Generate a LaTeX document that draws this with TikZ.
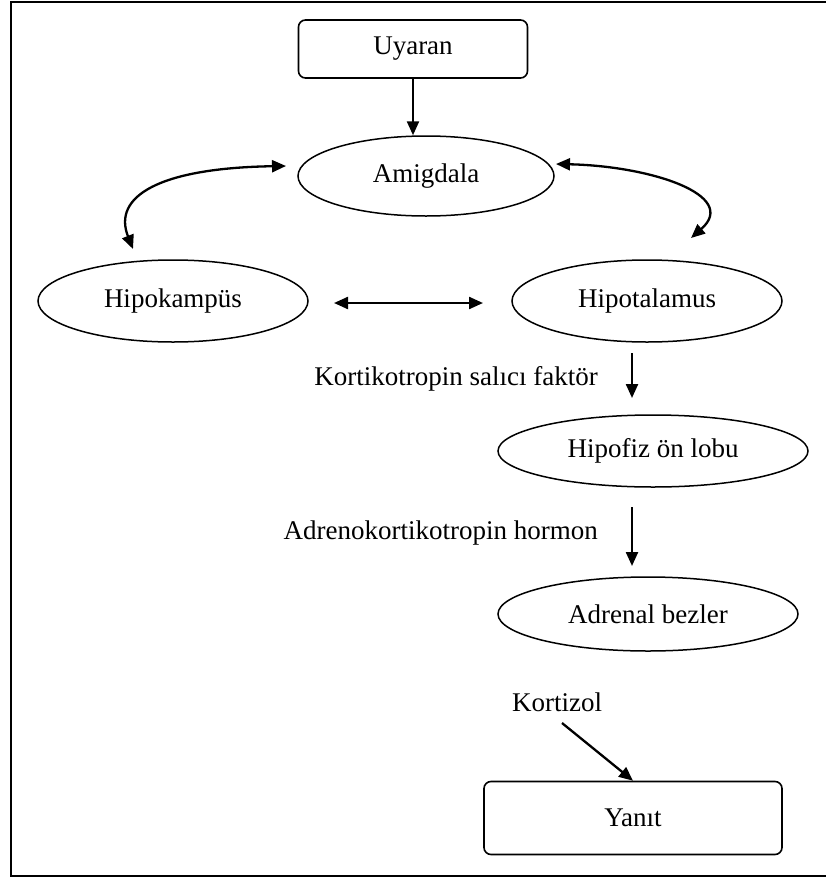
\documentclass[tikz,border=0pt]{standalone}
\usepackage{fontspec}
\setmainfont{Liberation Serif}
\usetikzlibrary{shapes.geometric,arrows.meta}
\begin{document}
\begin{tikzpicture}[x=1pt,y=-1pt,
  every node/.style={font=\fontsize{27}{32}\selectfont, inner sep=0pt},
  ell/.style={ellipse, draw, line width=1.5pt},
  rbox/.style={rectangle, draw, rounded corners=7pt, line width=1.6pt},
  arr/.style={line width=2.3pt, -{Triangle[length=14pt,width=12pt]}},
  darr/.style={line width=2.3pt, {Triangle[length=14pt,width=12pt]}-{Triangle[length=14pt,width=12pt]}},
  lbl/.style={}]
\useasboundingbox (0,0) rectangle (826,881);
\draw[line width=2pt] (826,1.5) -- (11,1.5) -- (11,876) -- (826,876);

\node[rbox, minimum width=229pt, minimum height=58pt] (uy) at (413,49) {Uyaran};
\node[ell, minimum width=256pt, minimum height=80pt] (am) at (426,176) {Amigdala};
\node[ell, minimum width=270pt, minimum height=82pt] (hk) at (173,301) {Hipokampüs};
\node[ell, minimum width=270pt, minimum height=82pt] (ht) at (647,301) {Hipotalamus};
\node[ell, minimum width=310pt, minimum height=72pt] (hf) at (653,451) {Hipofiz ön lobu};
\node[ell, minimum width=300pt, minimum height=74pt] (ad) at (648,614) {Adrenal bezler};
\node[rbox, minimum width=298pt, minimum height=73pt] (ya) at (633,818) {Yanıt};

\node[lbl, anchor=east] (ksf) at (598,379) {Kortikotropin salıcı faktör};
\node[lbl, anchor=east] (ach) at (598,533) {Adrenokortikotropin hormon};
\node[lbl, anchor=west] (kort) at (512,702) {Kortizol};

\coordinate (l1) at (286,166);
\coordinate (l2) at (133,249);
\coordinate (r1) at (556,164);
\coordinate (r2) at (691,238);
\coordinate (h1) at (334,303);
\coordinate (h2) at (483,303);
\coordinate (v1a) at (632,353);
\coordinate (v1b) at (632,398);
\coordinate (v2a) at (632,507);
\coordinate (v2b) at (632,566);
\coordinate (k1) at (562,723);

\draw[arr] (uy.south) -- (uy.south |- am.north);
\draw[darr] (l1) .. controls (160,168) and (112,196) .. (l2);
\draw[darr] (r1) .. controls (650,166) and (740,195) .. (r2);
\draw[darr] (h1) -- (h2);
\draw[arr] (v1a) -- (v1b);
\draw[arr] (v2a) -- (v2b);
\draw[arr] (k1) -- (ya.north);
\end{tikzpicture}
\end{document}
